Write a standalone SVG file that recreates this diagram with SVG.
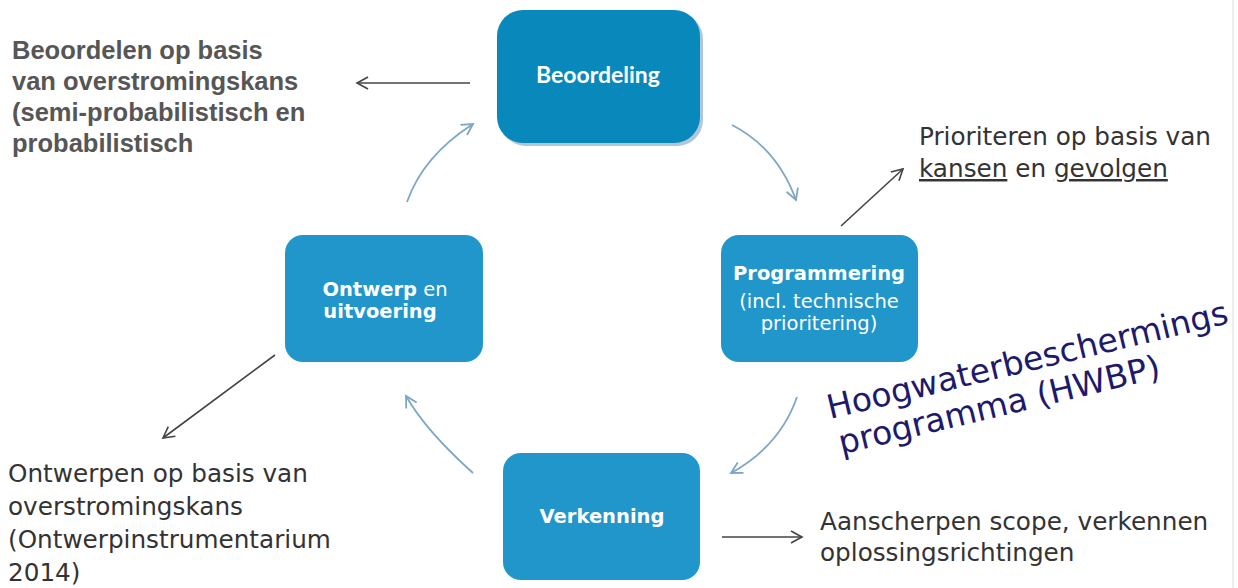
<svg xmlns="http://www.w3.org/2000/svg" width="1238" height="588" viewBox="0 0 1238 588">
  <defs>
    <marker id="ahDark" markerUnits="userSpaceOnUse" markerWidth="16" markerHeight="16" refX="13" refY="8" orient="auto" viewBox="0 0 16 16">
      <path d="M2,2 L13,8 L2,14" fill="none" stroke="#444" stroke-width="1.6"/>
    </marker>
    <marker id="ahBlue" markerUnits="userSpaceOnUse" markerWidth="16" markerHeight="16" refX="13" refY="8" orient="auto" viewBox="0 0 16 16">
      <path d="M2,2 L13,8 L2,14" fill="none" stroke="#7EA6C6" stroke-width="1.8"/>
    </marker>
    <style>
      .box { fill: #2196CB; }
      .boxA { fill: #0888BB; }
      .lbl { fill: #ffffff; font-family: "DejaVu Sans", Verdana, sans-serif; text-anchor: middle; font-size: 19.5px; }
      .b { font-weight: bold; }
      .dark { stroke: #444; stroke-width: 1.6; fill: none; marker-end: url(#ahDark); }
      .blue { stroke: #7EA6C6; stroke-width: 1.8; fill: none; marker-end: url(#ahBlue); }
      .note { fill: #333333; font-family: "DejaVu Sans", Verdana, sans-serif; font-size: 24.7px; }
      .gray { fill: #565656; font-family: "Liberation Sans", Arial, sans-serif; font-weight: bold; font-size: 25.5px; }
      .hw { fill: #1E1A6B; font-family: "DejaVu Sans", Verdana, sans-serif; font-size: 33px; }
    </style>
  </defs>
  <rect width="1238" height="588" fill="#ffffff"/>
  <line x1="1233" y1="0" x2="1233" y2="588" stroke="#e8e8e8" stroke-width="1.5"/>

  <g id="connectors">
    <line class="dark" x1="470" y1="83" x2="357" y2="83"/>
    <line class="dark" x1="841" y1="226" x2="903" y2="169"/>
    <line class="dark" x1="275" y1="355" x2="163" y2="438"/>
    <line class="dark" x1="722" y1="537" x2="802" y2="537"/>
    <path class="blue" d="M407,202 Q423,156 473,124"/>
    <path class="blue" d="M732,125 Q777,148 796,200"/>
    <path class="blue" d="M797,397 Q780,446 731,473"/>
    <path class="blue" d="M473,473 Q426,431 406,396"/>
  </g>

  <g id="node-beoordeling">
    <rect x="500" y="13" width="203" height="133" rx="26" fill="#4F83A6" opacity="0.45"/>
    <rect class="boxA" x="497" y="10" width="203" height="133" rx="26"/>
    <text x="598" y="83" fill="#ffffff" font-family="Lato, 'Open Sans', sans-serif" font-weight="bold" font-size="23" text-anchor="middle">Beoordeling</text>
  </g>

  <g id="node-programmering">
    <rect class="box" x="721" y="235" width="197" height="127" rx="18"/>
    <text class="lbl b" x="819" y="280">Programmering</text>
    <text class="lbl" x="819" y="308">(incl. technische</text>
    <text class="lbl" x="819" y="330">prioritering)</text>
  </g>

  <g id="node-ontwerp">
    <rect class="box" x="285" y="235" width="198" height="127" rx="18"/>
    <text class="lbl" x="385" y="296"><tspan class="b">Ontwerp</tspan> en</text>
    <text class="lbl b" x="380" y="318">uitvoering</text>
  </g>

  <g id="node-verkenning">
    <rect class="box" x="503" y="453" width="197" height="127" rx="18"/>
    <text class="lbl b" x="602" y="523">Verkenning</text>
  </g>

  <g id="note-beoordelen">
    <text class="gray" x="12" y="59">Beoordelen op basis</text>
    <text class="gray" x="12" y="90">van overstromingskans</text>
    <text class="gray" x="12" y="121">(semi-probabilistisch en</text>
    <text class="gray" x="12" y="152">probabilistisch</text>
  </g>

  <g id="note-prioriteren">
    <text class="note" x="919" y="145" font-size="25.5">Prioriteren op basis van</text>
    <text class="note" x="919" y="177" font-size="25.5"><tspan text-decoration="underline">kansen</tspan> en <tspan text-decoration="underline">gevolgen</tspan></text>
  </g>

  <g id="note-ontwerpen">
    <text class="note" x="8" y="482">Ontwerpen op basis van</text>
    <text class="note" x="8" y="515">overstromingskans</text>
    <text class="note" x="8" y="548">(Ontwerpinstrumentarium</text>
    <text class="note" x="8" y="581">2014)</text>
  </g>

  <g id="note-aanscherpen">
    <text class="note" x="820" y="530">Aanscherpen scope, verkennen</text>
    <text class="note" x="820" y="561">oplossingsrichtingen</text>
  </g>

  <g id="label-hwbp" transform="translate(830,419) rotate(-13.5)">
    <text class="hw" x="0" y="0">Hoogwaterbeschermings</text>
    <text class="hw" x="3" y="37">programma (HWBP)</text>
  </g>
</svg>
